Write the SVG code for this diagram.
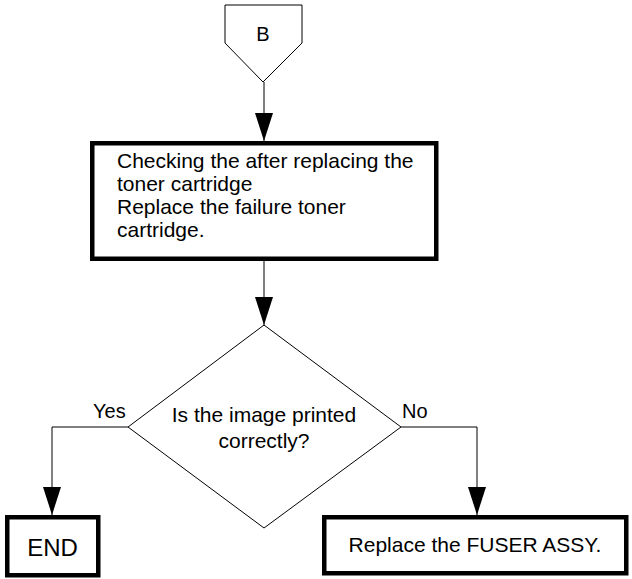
<svg xmlns="http://www.w3.org/2000/svg" width="632" height="579" viewBox="0 0 632 579">
<style>
.thin{fill:#fff;stroke:#000;stroke-width:1}
.box{fill:#fff;stroke:#000;stroke-width:4.5}
.ln{fill:none;stroke:#000;stroke-width:1}
text{font-family:"Liberation Sans",Arial,sans-serif;font-size:21px;fill:#000}
.c{text-anchor:middle}
</style>
<defs>
<marker id="ah" markerWidth="28" markerHeight="18" refX="28" refY="9" viewBox="0 0 28 18" orient="auto" markerUnits="userSpaceOnUse">
<path d="M0,0 L28,9 L0,18 Z" fill="#000"/>
</marker>
</defs>
<rect width="632" height="579" fill="#fff"/>
<g id="connectors">
<line class="ln" x1="264" y1="82" x2="264" y2="141" marker-end="url(#ah)"/>
<line class="ln" x1="264" y1="261" x2="264" y2="325" marker-end="url(#ah)"/>
<polyline class="ln" points="128,427 52,427 52,515" marker-end="url(#ah)"/>
<polyline class="ln" points="401,427 477,427 477,515" marker-end="url(#ah)"/>
<text x="93" y="418" style="font-size:20px">Yes</text>
<text x="402" y="418" style="font-size:20px">No</text>
</g>
<g id="nodeB">
<polygon class="thin" points="225,5 302,5 302,43 263,82 225,43"/>
<text class="c" x="263" y="41" style="font-size:20px">B</text>
</g>
<g id="check">
<rect class="box" x="92.25" y="143.25" width="344" height="115.5"/>
<text x="117" y="168">Checking the after replacing the</text>
<text x="117" y="191">toner cartridge</text>
<text x="117" y="214">Replace the failure toner</text>
<text x="117" y="237">cartridge.</text>
</g>
<g id="decision">
<polygon class="thin" points="264,325 401,427 264,528 128,427"/>
<text class="c" x="264" y="422">Is the image printed</text>
<text class="c" x="264" y="448">correctly?</text>
</g>
<g id="end">
<rect class="box" x="7.25" y="517.25" width="91" height="58"/>
<text class="c" x="52.5" y="556" style="font-size:24px">END</text>
</g>
<g id="fuser">
<rect class="box" x="324.25" y="517.25" width="302" height="56"/>
<text class="c" x="475" y="552">Replace the FUSER ASSY.</text>
</g>
</svg>
